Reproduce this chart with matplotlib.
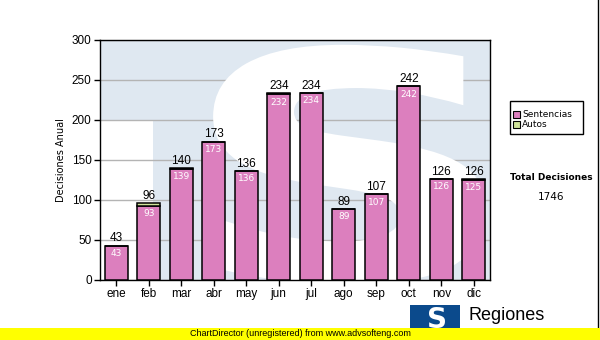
import matplotlib
matplotlib.use('Agg')
import matplotlib.pyplot as plt
from matplotlib.patches import Rectangle, PathPatch
from matplotlib.textpath import TextPath
from matplotlib.font_manager import FontProperties
from matplotlib.transforms import Affine2D

meses = ['ene', 'feb', 'mar', 'abr', 'may', 'jun', 'jul', 'ago', 'sep', 'oct', 'nov', 'dic']
sentencias = [43, 93, 139, 173, 136, 232, 234, 89, 107, 242, 126, 125]
autos = [0, 3, 1, 0, 0, 2, 0, 0, 0, 0, 0, 1]
total_decisiones = 1746

rosa = '#dc7fbe'
verde = '#cfe39a'
fondo = '#dfe8f1'

fig = plt.figure(figsize=(6, 3.4), dpi=100)
ax = fig.add_axes([100 / 600, 1 - 280 / 340, 390 / 600, 240 / 340])
ax.set_facecolor(fondo)

# marca de agua (TS) en el fondo
ax.add_patch(Rectangle((0, 0), 53 / 390, 160 / 240, transform=ax.transAxes,
                       color='white', zorder=0.5, lw=0))
tp = TextPath((0, 0), 'S', prop=FontProperties(family='DejaVu Sans', weight='bold'))
ext = tp.get_extents()
x0, x1, y0, y1 = 0.29, 0.99, -0.02, 0.98
tr = Affine2D().translate(-ext.x0, -ext.y0).scale((x1 - x0) / ext.width, (y1 - y0) / ext.height).translate(x0, y0)
ax.add_patch(PathPatch(tr.transform_path(tp), transform=ax.transAxes, color='white',
                       lw=0, zorder=0.6, clip_on=True))

x = list(range(len(meses)))
ax.bar(x, sentencias, width=0.7, color=rosa, edgecolor='black', lw=1.1, zorder=3)
ax.bar(x, autos, width=0.7, bottom=sentencias, color=verde, edgecolor='black', lw=1.1, zorder=3)

for i in x:
    tot = sentencias[i] + autos[i]
    ax.text(i, tot + 1.5, str(tot), ha='center', va='bottom', fontsize=8.5,
            family='Liberation Sans', zorder=5)
    ax.text(i, sentencias[i] - 4, str(sentencias[i]), ha='center', va='top', fontsize=6.5,
            color='white', family='DejaVu Sans', zorder=5)

ax.set_xlim(-0.5, 11.5)
ax.set_ylim(0, 300)
ax.set_yticks(range(0, 301, 50))
ax.yaxis.grid(True, color='#b4b4b4', lw=1)
ax.set_axisbelow(True)
ax.set_xticks(x)
ax.set_xticklabels(meses)
for lab in ax.get_xticklabels() + ax.get_yticklabels():
    lab.set_family('Liberation Sans')
    lab.set_fontsize(8.5)
ax.tick_params(length=4, width=1, pad=2)
ax.set_ylabel('Decisiones Anual', fontsize=7, family='DejaVu Sans', labelpad=4)
for s in ax.spines.values():
    s.set_linewidth(1)

# leyenda
fig.patches.append(Rectangle((510 / 600, 1 - 134 / 340), 73 / 600, 33 / 340,
                             transform=fig.transFigure, fill=False, ec='black', lw=1))
for k, (nombre, c) in enumerate([('Sentencias', rosa), ('Autos', verde)]):
    yk = 1 - (115 + k * 10) / 340
    fig.patches.append(Rectangle((513 / 600, yk - 3 / 340), 7 / 600, 7 / 340,
                                 transform=fig.transFigure, fc=c, ec='black', lw=0.8))
    fig.text(522 / 600, yk + 0.5 / 340, nombre, fontsize=6.5, va='center', family='DejaVu Sans')

fig.text(551 / 600, 1 - 177 / 340, 'Total Decisiones', fontsize=6.5, weight='bold',
         ha='center', va='center', family='DejaVu Sans')
fig.text(551 / 600, 1 - 197 / 340, str(total_decisiones), fontsize=7.5,
         ha='center', va='center', family='DejaVu Sans')

# borde derecho
fig.lines.append(plt.Line2D([598 / 600, 598 / 600], [12 / 340, 1], transform=fig.transFigure,
                            color='black', lw=1))

# logo inferior
fig.patches.append(Rectangle((410 / 600, 0), 50 / 600, 35 / 340, transform=fig.transFigure,
                             color='#0b4a8c', lw=0))
fig.text(437 / 600, 1 - 320 / 340, 'S', fontsize=20, weight='bold', color='white',
         ha='center', va='center', family='DejaVu Sans')
fig.text(469 / 600, 1 - 316 / 340, 'Regiones', fontsize=13, va='center', family='Liberation Sans')

# banda amarilla
fig.patches.append(Rectangle((0, 0), 1, 12 / 340, transform=fig.transFigure,
                             color='#ffff00', lw=0, zorder=10))
fig.text(190 / 600, 6 / 340, 'ChartDirector (unregistered) from www.advsofteng.com',
         fontsize=6.5, va='center', family='Liberation Sans', zorder=11)

fig.savefig('out.png', dpi=100)
